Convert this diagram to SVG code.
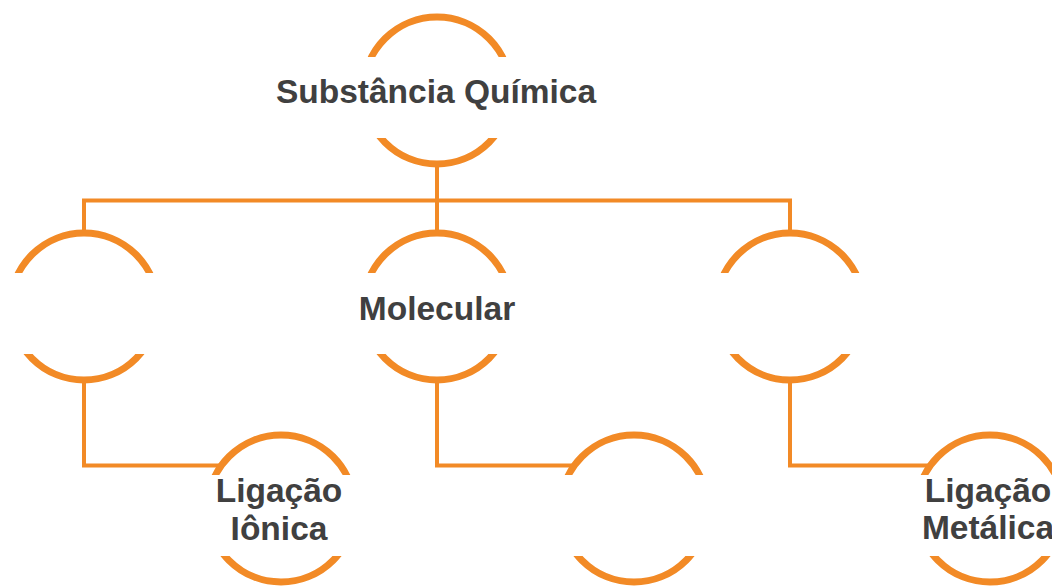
<svg xmlns="http://www.w3.org/2000/svg" width="1052" height="587" viewBox="0 0 1052 587">
  <style>
    .ring { fill: none; stroke: #F28A26; stroke-width: 7; clip-path: url(#cut); }
    .conn { fill: none; stroke: #F28A26; stroke-width: 4; stroke-linejoin: miter; }
    .lbl { font-family: "Liberation Sans", Arial, sans-serif; font-weight: bold; font-size: 33.5px; fill: #404040; text-anchor: middle; }
  </style>
  <defs>
    <clipPath id="cut" clipPathUnits="objectBoundingBox">
      <rect x="-0.3" y="-0.3" width="1.6" height="0.5721"/>
      <rect x="-0.3" y="0.8231" width="1.6" height="0.5"/>
    </clipPath>
  </defs>
  <rect width="1052" height="587" fill="#ffffff"/>
  <g id="connectors">
    <path class="conn" d="M437 162 V233"/>
    <path class="conn" d="M84 233 V200.5 H790 V233"/>
    <path class="conn" d="M84 380 V465.5 H224"/>
    <path class="conn" d="M437 380 V465.5 H577"/>
    <path class="conn" d="M790 380 V465.5 H933"/>
  </g>
  <g id="node-substancia">
    <circle class="ring" cx="437" cy="90.5" r="73.5"/>
    <text class="lbl" x="436" y="103">Substância Química</text>
  </g>
  <g id="node-left">
    <circle class="ring" cx="84" cy="306.5" r="73.5"/>
  </g>
  <g id="node-molecular">
    <circle class="ring" cx="437" cy="306.5" r="73.5"/>
    <text class="lbl" x="437" y="320">Molecular</text>
  </g>
  <g id="node-right">
    <circle class="ring" cx="790" cy="306.5" r="73.5"/>
  </g>
  <g id="node-ionica">
    <circle class="ring" cx="281" cy="508.5" r="73.5"/>
    <text class="lbl" x="279" y="502">Ligação</text>
    <text class="lbl" x="279" y="540">Iônica</text>
  </g>
  <g id="node-empty">
    <circle class="ring" cx="634" cy="508.5" r="73.5"/>
  </g>
  <g id="node-metalica">
    <circle class="ring" cx="990" cy="508.5" r="73.5"/>
    <text class="lbl" x="988" y="502">Ligação</text>
    <text class="lbl" x="988" y="539">Metálica</text>
  </g>
</svg>
